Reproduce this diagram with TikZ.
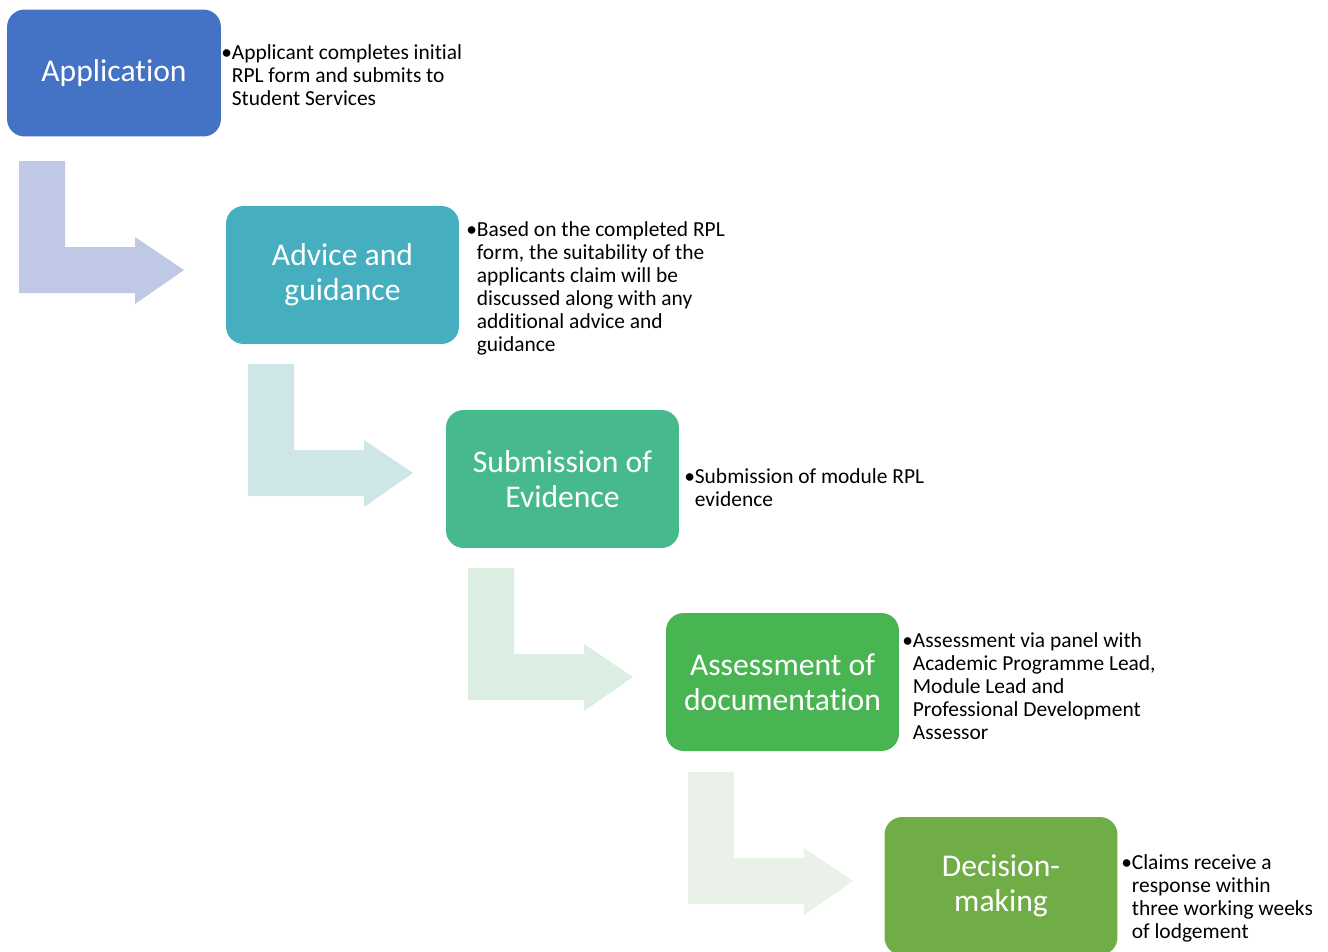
\documentclass[tikz,border=0pt]{standalone}
\usepackage{fontspec}
\setmainfont{Carlito}[Ligatures=NoCommon]
\usepackage{tikz}
\usetikzlibrary{shapes,arrows,calc}

\definecolor{appblue}{HTML}{4472C4}
\definecolor{advteal}{HTML}{45AFC0}
\definecolor{subgreen}{HTML}{46BA8D}
\definecolor{assgreen}{HTML}{48B552}
\definecolor{decgreen}{HTML}{70AD47}
\definecolor{bendone}{HTML}{BFC9E5}
\definecolor{bendtwo}{HTML}{CEE6E8}
\definecolor{bendthree}{HTML}{DCEDE2}
\definecolor{bendfour}{HTML}{EAF1E8}

\tikzstyle{stagebox} = [draw=none, rounded corners=10pt, text=white, align=center,
  inner sep=0pt, minimum width=4.66cm, minimum height=2.76cm,
  font=\fontsize{18}{19.8}\selectfont]
\tikzstyle{note} = [inner sep=0pt, anchor=base west, font=\fontsize{12.2}{13.2}\selectfont]
\newcommand{\bentpath}{(0,0) -- (46,0) -- (46,86) -- (116,86) -- (116,76) -- (165,109)
  -- (116,143) -- (116,132) -- (0,132) -- cycle}
\newcommand{\bul}{\makebox[6pt][l]{•}}

\begin{document}
\begin{tikzpicture}[x=0.02cm, y=-0.02cm]
      \useasboundingbox (0,0) rectangle (1328,951);

      \fill[bendone, shift={(19,161)}] \bentpath;
      \fill[bendtwo, shift={(248,364)}] \bentpath;
      \fill[bendthree, shift={(468,568)}] \bentpath;
      \fill[bendfour, shift={(688,772)}] \bentpath;

      \node[stagebox, fill=appblue, minimum width=4.28cm, minimum height=2.54cm] (app) at (114, 73) {Application};
      \node[stagebox, fill=advteal] (advice) at (342.5, 275) {Advice and\\guidance};
      \node[stagebox, fill=subgreen] (submit) at (562.5, 479) {Submission of\\Evidence};
      \node[stagebox, fill=assgreen] (assess) at (782.5, 682) {Assessment of\\documentation};
      \node[stagebox, fill=decgreen] (decide) at (1001, 886) {Decision-\\making};

      \node[note] (appnote) at (221, 59) {\begin{tabular}[t]{@{}l@{}l@{}}\bul&Applicant completes initial\\&RPL form and submits to\\&Student Services\end{tabular}};
      \node[note] (advnote) at (466, 236) {\begin{tabular}[t]{@{}l@{}l@{}}\bul&Based on the completed RPL\\&form, the suitability of the\\&applicants claim will be\\&discussed along with any\\&additional advice and\\&guidance\end{tabular}};
      \node[note] (subnote) at (684, 483) {\begin{tabular}[t]{@{}l@{}l@{}}\bul&Submission of module RPL\\&evidence\end{tabular}};
      \node[note] (assnote) at (902, 647) {\begin{tabular}[t]{@{}l@{}l@{}}\bul&Assessment via panel with\\&Academic Programme Lead,\\&Module Lead and\\&Professional Development\\&Assessor\end{tabular}};
      \node[note] (decnote) at (1121, 869) {\begin{tabular}[t]{@{}l@{}l@{}}\bul&Claims receive a\\&response within\\&three working weeks\\&of lodgement\end{tabular}};
    \end{tikzpicture}
\end{document}
